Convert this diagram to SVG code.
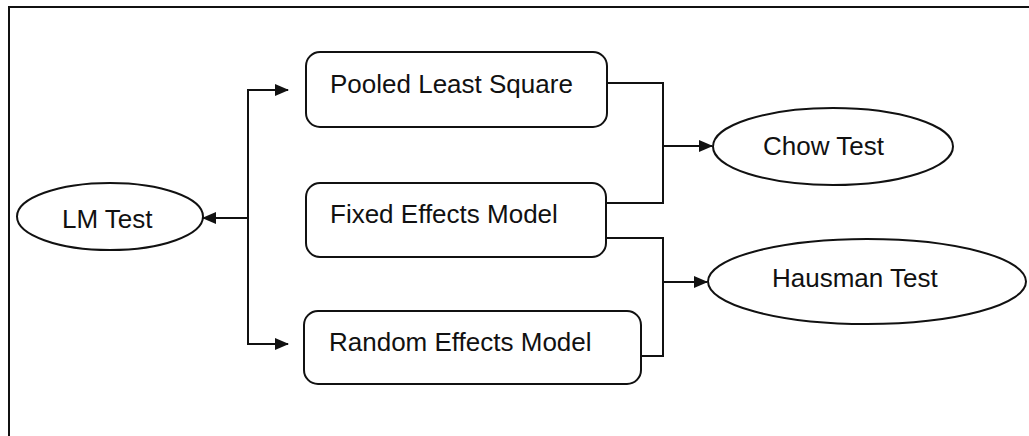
<svg xmlns="http://www.w3.org/2000/svg" width="1029" height="436" viewBox="0 0 1029 436">
<defs>
<style>
.box{fill:#fff;stroke:#111;stroke-width:2}
.lbl{font-family:"Liberation Sans",Arial,sans-serif;font-size:26px;fill:#111}
.ln{fill:none;stroke:#111;stroke-width:2}
</style>
<marker id="ah" markerWidth="14" markerHeight="12" refX="13" refY="6" orient="auto" markerUnits="userSpaceOnUse">
<path d="M0,0 L14,6 L0,12 Z" fill="#111"/>
</marker>
</defs>
<rect width="1029" height="436" fill="#fff"/>
<path d="M9,436 V7 H1029" class="ln"/>
<g id="lm">
<ellipse cx="110" cy="216.5" rx="93" ry="33.5" class="box"/>
<text x="62" y="228" class="lbl">LM Test</text>
</g>
<g id="pooled">
<rect x="306" y="52" width="301" height="75" rx="14" class="box"/>
<text x="330" y="93" class="lbl">Pooled Least Square</text>
</g>
<g id="fixed">
<rect x="306" y="183" width="300" height="74" rx="14" class="box"/>
<text x="330" y="223" class="lbl">Fixed Effects Model</text>
</g>
<g id="random">
<rect x="304" y="311" width="337" height="73" rx="14" class="box"/>
<text x="329" y="351" class="lbl">Random Effects Model</text>
</g>
<g id="chow">
<ellipse cx="833" cy="146.5" rx="120" ry="38.5" class="box"/>
<text x="763" y="155" class="lbl">Chow Test</text>
</g>
<g id="hausman">
<ellipse cx="867" cy="281.5" rx="159" ry="42.5" class="box"/>
<text x="772" y="287" class="lbl">Hausman Test</text>
</g>
<g id="connectors">
<path d="M248,218 V90 H288" class="ln" marker-end="url(#ah)"/>
<path d="M248,218 V344 H288" class="ln" marker-end="url(#ah)"/>
<path d="M248,218 H203" class="ln" marker-end="url(#ah)"/>
<path d="M607,83 H663 V203 H606" class="ln"/>
<path d="M663,146 H712" class="ln" marker-end="url(#ah)"/>
<path d="M606,238 H663 V356 H641" class="ln"/>
<path d="M663,282 H707" class="ln" marker-end="url(#ah)"/>
</g>
</svg>
